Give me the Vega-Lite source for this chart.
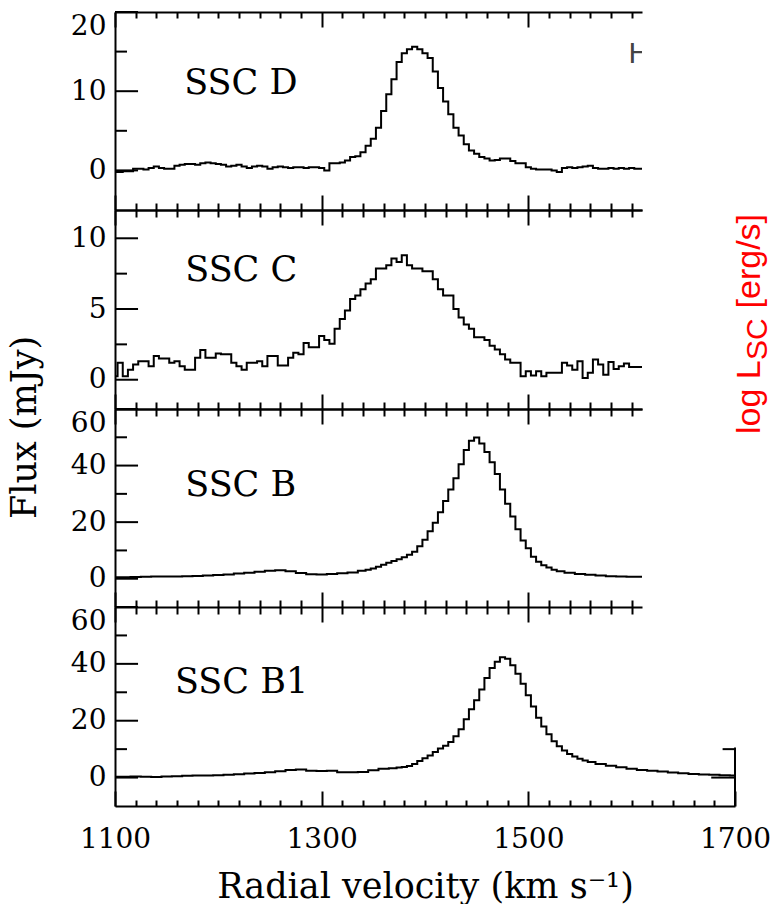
{
"$schema": "https://vega.github.io/schema/vega-lite/v6.json",
"background": "white",
"padding": {"left": 7, "top": 11, "right": 0, "bottom": 0},
"bounds": "flush",
"spacing": 0,
"datasets": {"s": [
{"p":"D","v":1100,"f":-0.2},{"p":"D","v":1105,"f":-0.2},{"p":"D","v":1110,"f":-0.1},{"p":"D","v":1115,"f":-0.1},{"p":"D","v":1120,"f":0.2},{"p":"D","v":1125,"f":0.2},{"p":"D","v":1130,"f":0.1},{"p":"D","v":1135,"f":0.3},{"p":"D","v":1140,"f":0.5},{"p":"D","v":1145,"f":0.3},{"p":"D","v":1150,"f":0.2},{"p":"D","v":1155,"f":0.2},{"p":"D","v":1160,"f":0.6},{"p":"D","v":1165,"f":0.7},{"p":"D","v":1170,"f":0.8},{"p":"D","v":1175,"f":0.8},{"p":"D","v":1180,"f":0.7},{"p":"D","v":1185,"f":0.9},{"p":"D","v":1190,"f":1.0},{"p":"D","v":1195,"f":0.9},{"p":"D","v":1200,"f":0.8},{"p":"D","v":1205,"f":0.7},{"p":"D","v":1210,"f":0.5},{"p":"D","v":1215,"f":0.6},{"p":"D","v":1220,"f":0.7},{"p":"D","v":1225,"f":0.5},{"p":"D","v":1230,"f":0.3},{"p":"D","v":1235,"f":0.5},{"p":"D","v":1240,"f":0.6},{"p":"D","v":1245,"f":0.5},{"p":"D","v":1250,"f":0.2},{"p":"D","v":1255,"f":0.4},{"p":"D","v":1260,"f":0.5},{"p":"D","v":1265,"f":0.4},{"p":"D","v":1270,"f":0.3},{"p":"D","v":1275,"f":0.4},{"p":"D","v":1280,"f":0.4},{"p":"D","v":1285,"f":0.3},{"p":"D","v":1290,"f":0.4},{"p":"D","v":1295,"f":0.4},{"p":"D","v":1300,"f":0.3},{"p":"D","v":1305,"f":0.0},{"p":"D","v":1310,"f":0.9},{"p":"D","v":1315,"f":0.9},{"p":"D","v":1320,"f":1.0},{"p":"D","v":1325,"f":1.25},{"p":"D","v":1330,"f":1.7},{"p":"D","v":1335,"f":1.8},{"p":"D","v":1340,"f":2.3},{"p":"D","v":1345,"f":3.1},{"p":"D","v":1350,"f":4.0},{"p":"D","v":1355,"f":5.4},{"p":"D","v":1360,"f":7.5},{"p":"D","v":1365,"f":9.6},{"p":"D","v":1370,"f":11.5},{"p":"D","v":1375,"f":13.7},{"p":"D","v":1380,"f":14.8},{"p":"D","v":1385,"f":15.3},{"p":"D","v":1390,"f":15.6},{"p":"D","v":1395,"f":15.3},{"p":"D","v":1400,"f":14.8},{"p":"D","v":1405,"f":14.2},{"p":"D","v":1410,"f":12.5},{"p":"D","v":1415,"f":10.4},{"p":"D","v":1420,"f":8.7},{"p":"D","v":1425,"f":7.1},{"p":"D","v":1430,"f":5.4},{"p":"D","v":1435,"f":4.4},{"p":"D","v":1440,"f":3.3},{"p":"D","v":1445,"f":2.5},{"p":"D","v":1450,"f":2.1},{"p":"D","v":1455,"f":1.7},{"p":"D","v":1460,"f":1.5},{"p":"D","v":1465,"f":1.25},{"p":"D","v":1470,"f":1.3},{"p":"D","v":1475,"f":1.5},{"p":"D","v":1480,"f":1.5},{"p":"D","v":1485,"f":1.2},{"p":"D","v":1490,"f":0.9},{"p":"D","v":1495,"f":0.9},{"p":"D","v":1500,"f":0.4},{"p":"D","v":1505,"f":0.2},{"p":"D","v":1510,"f":0.1},{"p":"D","v":1515,"f":0.1},{"p":"D","v":1520,"f":0.1},{"p":"D","v":1525,"f":0.0},{"p":"D","v":1530,"f":-0.2},{"p":"D","v":1535,"f":0.3},{"p":"D","v":1540,"f":0.4},{"p":"D","v":1545,"f":0.3},{"p":"D","v":1550,"f":0.4},{"p":"D","v":1555,"f":0.5},{"p":"D","v":1560,"f":0.6},{"p":"D","v":1565,"f":0.3},{"p":"D","v":1570,"f":0.2},{"p":"D","v":1575,"f":0.2},{"p":"D","v":1580,"f":0.3},{"p":"D","v":1585,"f":0.2},{"p":"D","v":1590,"f":0.3},{"p":"D","v":1595,"f":0.2},{"p":"D","v":1600,"f":0.3},{"p":"D","v":1605,"f":0.2},{"p":"D","v":1610,"f":0.2},
{"p":"C","v":1100,"f":0.24},{"p":"C","v":1105,"f":1.2},{"p":"C","v":1110,"f":0.24},{"p":"C","v":1115,"f":0.7},{"p":"C","v":1120,"f":1.07},{"p":"C","v":1125,"f":1.3},{"p":"C","v":1130,"f":1.3},{"p":"C","v":1135,"f":0.95},{"p":"C","v":1140,"f":1.67},{"p":"C","v":1145,"f":1.5},{"p":"C","v":1150,"f":1.5},{"p":"C","v":1155,"f":1.2},{"p":"C","v":1160,"f":1.3},{"p":"C","v":1165,"f":0.95},{"p":"C","v":1170,"f":0.7},{"p":"C","v":1175,"f":0.7},{"p":"C","v":1180,"f":1.55},{"p":"C","v":1185,"f":2.1},{"p":"C","v":1190,"f":1.55},{"p":"C","v":1195,"f":1.55},{"p":"C","v":1200,"f":1.86},{"p":"C","v":1205,"f":1.8},{"p":"C","v":1210,"f":1.8},{"p":"C","v":1215,"f":1.2},{"p":"C","v":1220,"f":0.95},{"p":"C","v":1225,"f":0.7},{"p":"C","v":1230,"f":1.2},{"p":"C","v":1235,"f":1.2},{"p":"C","v":1240,"f":1.3},{"p":"C","v":1245,"f":0.95},{"p":"C","v":1250,"f":1.67},{"p":"C","v":1255,"f":1.67},{"p":"C","v":1260,"f":1.0},{"p":"C","v":1265,"f":1.0},{"p":"C","v":1270,"f":1.55},{"p":"C","v":1275,"f":1.9},{"p":"C","v":1280,"f":1.8},{"p":"C","v":1285,"f":2.6},{"p":"C","v":1290,"f":2.3},{"p":"C","v":1295,"f":2.3},{"p":"C","v":1300,"f":3.1},{"p":"C","v":1305,"f":2.8},{"p":"C","v":1310,"f":2.55},{"p":"C","v":1315,"f":3.6},{"p":"C","v":1320,"f":4.3},{"p":"C","v":1325,"f":4.9},{"p":"C","v":1330,"f":5.7},{"p":"C","v":1335,"f":5.95},{"p":"C","v":1340,"f":6.4},{"p":"C","v":1345,"f":6.8},{"p":"C","v":1350,"f":7.1},{"p":"C","v":1355,"f":7.86},{"p":"C","v":1360,"f":7.86},{"p":"C","v":1365,"f":8.1},{"p":"C","v":1370,"f":8.57},{"p":"C","v":1375,"f":8.33},{"p":"C","v":1380,"f":8.8},{"p":"C","v":1385,"f":8.1},{"p":"C","v":1390,"f":7.86},{"p":"C","v":1395,"f":7.86},{"p":"C","v":1400,"f":7.67},{"p":"C","v":1405,"f":7.67},{"p":"C","v":1410,"f":7.1},{"p":"C","v":1415,"f":6.4},{"p":"C","v":1420,"f":5.95},{"p":"C","v":1425,"f":5.95},{"p":"C","v":1430,"f":5.0},{"p":"C","v":1435,"f":4.4},{"p":"C","v":1440,"f":3.9},{"p":"C","v":1445,"f":3.6},{"p":"C","v":1450,"f":3.0},{"p":"C","v":1455,"f":3.0},{"p":"C","v":1460,"f":2.8},{"p":"C","v":1465,"f":2.4},{"p":"C","v":1470,"f":2.14},{"p":"C","v":1475,"f":1.8},{"p":"C","v":1480,"f":1.43},{"p":"C","v":1485,"f":1.2},{"p":"C","v":1490,"f":1.2},{"p":"C","v":1495,"f":0.24},{"p":"C","v":1500,"f":0.6},{"p":"C","v":1505,"f":0.3},{"p":"C","v":1510,"f":0.6},{"p":"C","v":1515,"f":0.24},{"p":"C","v":1520,"f":0.5},{"p":"C","v":1525,"f":0.5},{"p":"C","v":1530,"f":0.5},{"p":"C","v":1535,"f":1.2},{"p":"C","v":1540,"f":1.0},{"p":"C","v":1545,"f":0.7},{"p":"C","v":1550,"f":1.3},{"p":"C","v":1555,"f":0.12},{"p":"C","v":1560,"f":0.5},{"p":"C","v":1565,"f":1.43},{"p":"C","v":1570,"f":1.07},{"p":"C","v":1575,"f":0.36},{"p":"C","v":1580,"f":1.26},{"p":"C","v":1585,"f":0.76},{"p":"C","v":1590,"f":0.95},{"p":"C","v":1595,"f":1.14},{"p":"C","v":1600,"f":0.9},{"p":"C","v":1605,"f":0.9},{"p":"C","v":1610,"f":0.9},
{"p":"B","v":1100,"f":0.5},{"p":"B","v":1110,"f":0.5},{"p":"B","v":1120,"f":0.6},{"p":"B","v":1130,"f":0.7},{"p":"B","v":1140,"f":0.8},{"p":"B","v":1150,"f":0.8},{"p":"B","v":1160,"f":0.8},{"p":"B","v":1170,"f":0.9},{"p":"B","v":1180,"f":1.0},{"p":"B","v":1190,"f":1.1},{"p":"B","v":1200,"f":1.3},{"p":"B","v":1210,"f":1.5},{"p":"B","v":1220,"f":1.8},{"p":"B","v":1230,"f":2.1},{"p":"B","v":1240,"f":2.5},{"p":"B","v":1250,"f":2.8},{"p":"B","v":1260,"f":3.0},{"p":"B","v":1270,"f":2.6},{"p":"B","v":1280,"f":2.0},{"p":"B","v":1290,"f":1.6},{"p":"B","v":1300,"f":1.5},{"p":"B","v":1310,"f":1.7},{"p":"B","v":1320,"f":1.9},{"p":"B","v":1330,"f":2.2},{"p":"B","v":1340,"f":2.8},{"p":"B","v":1345,"f":3.2},{"p":"B","v":1350,"f":3.6},{"p":"B","v":1355,"f":4.2},{"p":"B","v":1360,"f":4.9},{"p":"B","v":1365,"f":5.6},{"p":"B","v":1370,"f":6.3},{"p":"B","v":1375,"f":6.9},{"p":"B","v":1380,"f":7.6},{"p":"B","v":1385,"f":8.5},{"p":"B","v":1390,"f":9.5},{"p":"B","v":1395,"f":11.5},{"p":"B","v":1400,"f":13.8},{"p":"B","v":1405,"f":16.8},{"p":"B","v":1410,"f":19.8},{"p":"B","v":1415,"f":23.5},{"p":"B","v":1420,"f":27.5},{"p":"B","v":1425,"f":31.5},{"p":"B","v":1430,"f":35.5},{"p":"B","v":1435,"f":40.5},{"p":"B","v":1440,"f":45.5},{"p":"B","v":1445,"f":48.8},{"p":"B","v":1450,"f":49.9},{"p":"B","v":1455,"f":47.8},{"p":"B","v":1460,"f":44.8},{"p":"B","v":1465,"f":41.2},{"p":"B","v":1470,"f":37.0},{"p":"B","v":1475,"f":31.5},{"p":"B","v":1480,"f":26.5},{"p":"B","v":1485,"f":22.0},{"p":"B","v":1490,"f":17.5},{"p":"B","v":1495,"f":13.5},{"p":"B","v":1500,"f":10.8},{"p":"B","v":1505,"f":7.8},{"p":"B","v":1510,"f":6.0},{"p":"B","v":1515,"f":4.8},{"p":"B","v":1520,"f":4.0},{"p":"B","v":1525,"f":3.2},{"p":"B","v":1530,"f":2.6},{"p":"B","v":1540,"f":2.1},{"p":"B","v":1550,"f":1.7},{"p":"B","v":1560,"f":1.4},{"p":"B","v":1570,"f":1.1},{"p":"B","v":1580,"f":0.9},{"p":"B","v":1590,"f":0.8},{"p":"B","v":1600,"f":0.7},{"p":"B","v":1610,"f":0.7},
{"p":"B1","v":1100,"f":0.3},{"p":"B1","v":1110,"f":0.3},{"p":"B1","v":1120,"f":0.4},{"p":"B1","v":1130,"f":0.3},{"p":"B1","v":1140,"f":0.2},{"p":"B1","v":1150,"f":0.4},{"p":"B1","v":1160,"f":0.5},{"p":"B1","v":1170,"f":0.6},{"p":"B1","v":1180,"f":0.7},{"p":"B1","v":1190,"f":0.7},{"p":"B1","v":1200,"f":0.8},{"p":"B1","v":1210,"f":1.0},{"p":"B1","v":1220,"f":1.2},{"p":"B1","v":1230,"f":1.4},{"p":"B1","v":1240,"f":1.6},{"p":"B1","v":1250,"f":1.9},{"p":"B1","v":1260,"f":2.2},{"p":"B1","v":1270,"f":2.7},{"p":"B1","v":1280,"f":2.8},{"p":"B1","v":1290,"f":2.4},{"p":"B1","v":1300,"f":2.3},{"p":"B1","v":1310,"f":2.4},{"p":"B1","v":1320,"f":1.9},{"p":"B1","v":1330,"f":1.9},{"p":"B1","v":1340,"f":2.0},{"p":"B1","v":1350,"f":2.6},{"p":"B1","v":1360,"f":3.1},{"p":"B1","v":1370,"f":3.3},{"p":"B1","v":1375,"f":3.5},{"p":"B1","v":1380,"f":3.7},{"p":"B1","v":1385,"f":4.1},{"p":"B1","v":1390,"f":4.8},{"p":"B1","v":1395,"f":5.8},{"p":"B1","v":1400,"f":6.8},{"p":"B1","v":1405,"f":7.8},{"p":"B1","v":1410,"f":9.0},{"p":"B1","v":1415,"f":10.2},{"p":"B1","v":1420,"f":11.2},{"p":"B1","v":1425,"f":12.5},{"p":"B1","v":1430,"f":14.5},{"p":"B1","v":1435,"f":17.0},{"p":"B1","v":1440,"f":20.5},{"p":"B1","v":1445,"f":24.0},{"p":"B1","v":1450,"f":27.2},{"p":"B1","v":1455,"f":31.0},{"p":"B1","v":1460,"f":35.0},{"p":"B1","v":1465,"f":38.5},{"p":"B1","v":1470,"f":40.7},{"p":"B1","v":1475,"f":42.3},{"p":"B1","v":1480,"f":41.8},{"p":"B1","v":1485,"f":39.5},{"p":"B1","v":1490,"f":36.5},{"p":"B1","v":1495,"f":33.0},{"p":"B1","v":1500,"f":29.0},{"p":"B1","v":1505,"f":25.0},{"p":"B1","v":1510,"f":21.0},{"p":"B1","v":1515,"f":18.0},{"p":"B1","v":1520,"f":15.2},{"p":"B1","v":1525,"f":12.8},{"p":"B1","v":1530,"f":11.0},{"p":"B1","v":1535,"f":9.5},{"p":"B1","v":1540,"f":8.3},{"p":"B1","v":1545,"f":7.4},{"p":"B1","v":1550,"f":6.6},{"p":"B1","v":1555,"f":6.0},{"p":"B1","v":1560,"f":5.5},{"p":"B1","v":1570,"f":4.8},{"p":"B1","v":1580,"f":4.2},{"p":"B1","v":1590,"f":3.6},{"p":"B1","v":1600,"f":3.1},{"p":"B1","v":1610,"f":2.7},{"p":"B1","v":1620,"f":2.4},{"p":"B1","v":1630,"f":2.1},{"p":"B1","v":1640,"f":1.8},{"p":"B1","v":1650,"f":1.5},{"p":"B1","v":1660,"f":1.3},{"p":"B1","v":1670,"f":1.1},{"p":"B1","v":1680,"f":1.0},{"p":"B1","v":1690,"f":0.8},{"p":"B1","v":1700,"f":0.7}
]},
"vconcat": [
{
 "width": 527, "height": 198,
 "resolve": {"axis": {"x": "independent", "y": "independent"}},
 "layer": [
  {"data": {"name": "s"}, "transform": [{"filter": "datum.p === 'D'"}],
   "mark": {"type": "line", "interpolate": "step", "color": "black", "strokeWidth": 2},
   "encoding": {
    "x": {"field": "v", "type": "quantitative", "scale": {"domain": [1100, 1610], "nice": false, "zero": false},
          "axis": {"orient": "top", "values": [1100,1120,1140,1160,1180,1200,1220,1240,1260,1280,1300,1320,1340,1360,1380,1400,1420,1440,1460,1480,1500,1520,1540,1560,1580,1600], "labels": false, "title": null, "tickSize": {"condition": {"test": "datum.value % 200 === 100", "value": -15}, "value": -6}}},
    "y": {"field": "f", "type": "quantitative", "scale": {"domain": [-5, 20], "nice": false, "zero": false},
          "axis": {"orient": "left", "values": [0, 10, 20], "title": null, "labelOverlap": false, "labelPadding": 9, "tickSize": 0, "labelBaseline": {"condition": {"test": "datum.value === 20", "value": "top"}, "value": "middle"}}}
   }},
  {"data": {"name": "s"}, "transform": [{"filter": "datum.p === 'D'"}],
   "mark": {"type": "line", "interpolate": "step", "opacity": 0},
   "encoding": {
    "x": {"field": "v", "type": "quantitative", "scale": {"domain": [1100, 1610], "nice": false, "zero": false},
          "axis": {"orient": "bottom", "values": [1100,1120,1140,1160,1180,1200,1220,1240,1260,1280,1300,1320,1340,1360,1380,1400,1420,1440,1460,1480,1500,1520,1540,1560,1580,1600], "labels": false, "title": null, "tickSize": {"condition": {"test": "datum.value % 200 === 100", "value": 15}, "value": 7}}},
    "y": {"field": "f", "type": "quantitative", "scale": {"domain": [-5, 20], "nice": false, "zero": false}, "axis": null}
   }},
  {"data": {"values": [{"t": 0}, {"t": 10}, {"t": 20}]},
   "mark": {"type": "rule", "color": "black", "strokeWidth": 2},
   "encoding": {
    "x": {"datum": 1100, "type": "quantitative", "scale": {"domain": [1100, 1610], "nice": false, "zero": false}, "axis": null},
    "x2": {"datum": 1122.3},
    "y": {"field": "t", "type": "quantitative", "scale": {"domain": [-5, 20], "nice": false, "zero": false}, "axis": null}
   }},
  {"data": {"values": [{"t": 5}, {"t": 15}]},
   "mark": {"type": "rule", "color": "black", "strokeWidth": 2},
   "encoding": {
    "x": {"datum": 1100, "type": "quantitative", "scale": {"domain": [1100, 1610], "nice": false, "zero": false}, "axis": null},
    "x2": {"datum": 1111.6},
    "y": {"field": "t", "type": "quantitative", "scale": {"domain": [-5, 20], "nice": false, "zero": false}, "axis": null}
   }},
  {"data": {"values": [{}]},
   "mark": {"type": "text", "text": "SSC D", "font": "DejaVu Serif", "fontSize": 35, "align": "left", "baseline": "alphabetic", "color": "black"},
   "encoding": {
    "x": {"datum": 1167, "type": "quantitative", "scale": {"domain": [1100, 1610], "nice": false, "zero": false}, "axis": null},
    "y": {"datum": 9.6, "type": "quantitative", "scale": {"domain": [-5, 20], "nice": false, "zero": false}, "axis": null}
   }},
  {"data": {"values": [{}]},
   "mark": {"type": "text", "text": "H", "font": "Liberation Sans", "fontSize": 30, "align": "left", "baseline": "alphabetic", "color": "#444444", "clip": true},
   "encoding": {
    "x": {"datum": 1597, "type": "quantitative", "scale": {"domain": [1100, 1610], "nice": false, "zero": false}, "axis": null},
    "y": {"datum": 13.5, "type": "quantitative", "scale": {"domain": [-5, 20], "nice": false, "zero": false}, "axis": null}
   }}
 ]
},
{
 "width": 527, "height": 199,
 "resolve": {"axis": {"x": "independent", "y": "independent"}},
 "layer": [
  {"data": {"name": "s"}, "transform": [{"filter": "datum.p === 'C'"}],
   "mark": {"type": "line", "interpolate": "step", "color": "black", "strokeWidth": 2},
   "encoding": {
    "x": {"field": "v", "type": "quantitative", "scale": {"domain": [1100, 1610], "nice": false, "zero": false},
          "axis": {"orient": "top", "values": [1100,1120,1140,1160,1180,1200,1220,1240,1260,1280,1300,1320,1340,1360,1380,1400,1420,1440,1460,1480,1500,1520,1540,1560,1580,1600], "labels": false, "title": null, "tickSize": {"condition": {"test": "datum.value % 200 === 100", "value": 15}, "value": 7}}},
    "y": {"field": "f", "type": "quantitative", "scale": {"domain": [-2.07, 12], "nice": false, "zero": false},
          "axis": {"orient": "left", "values": [0, 5, 10], "title": "Flux (mJy)", "titleX": -73, "titleY": 217, "titleAngle": 270, "titleBaseline": "bottom", "titleAlign": "center", "labelOverlap": false, "labelPadding": 9, "tickSize": 0, "labelBaseline": "middle"}}
   }},
  {"data": {"name": "s"}, "transform": [{"filter": "datum.p === 'C'"}],
   "mark": {"type": "line", "interpolate": "step", "opacity": 0},
   "encoding": {
    "x": {"field": "v", "type": "quantitative", "scale": {"domain": [1100, 1610], "nice": false, "zero": false},
          "axis": {"orient": "bottom", "values": [1100,1120,1140,1160,1180,1200,1220,1240,1260,1280,1300,1320,1340,1360,1380,1400,1420,1440,1460,1480,1500,1520,1540,1560,1580,1600], "labels": false, "title": null, "tickSize": {"condition": {"test": "datum.value % 200 === 100", "value": 15}, "value": 7}}},
    "y": {"field": "f", "type": "quantitative", "scale": {"domain": [-2.07, 12], "nice": false, "zero": false}, "axis": null}
   }},
  {"data": {"values": [{"t": 0}, {"t": 5}, {"t": 10}]},
   "mark": {"type": "rule", "color": "black", "strokeWidth": 2},
   "encoding": {
    "x": {"datum": 1100, "type": "quantitative", "scale": {"domain": [1100, 1610], "nice": false, "zero": false}, "axis": null},
    "x2": {"datum": 1122.3},
    "y": {"field": "t", "type": "quantitative", "scale": {"domain": [-2.07, 12], "nice": false, "zero": false}, "axis": null}
   }},
  {"data": {"values": [{"t": 2.5}, {"t": 7.5}]},
   "mark": {"type": "rule", "color": "black", "strokeWidth": 2},
   "encoding": {
    "x": {"datum": 1100, "type": "quantitative", "scale": {"domain": [1100, 1610], "nice": false, "zero": false}, "axis": null},
    "x2": {"datum": 1111.6},
    "y": {"field": "t", "type": "quantitative", "scale": {"domain": [-2.07, 12], "nice": false, "zero": false}, "axis": null}
   }},
  {"data": {"values": [{}]},
   "mark": {"type": "text", "text": "SSC C", "font": "DejaVu Serif", "fontSize": 35, "align": "left", "baseline": "alphabetic", "color": "black"},
   "encoding": {
    "x": {"datum": 1168, "type": "quantitative", "scale": {"domain": [1100, 1610], "nice": false, "zero": false}, "axis": null},
    "y": {"datum": 7.0, "type": "quantitative", "scale": {"domain": [-2.07, 12], "nice": false, "zero": false}, "axis": null}
   }},
  {"data": {"values": [{}]},
   "mark": {"type": "text", "text": "log L", "font": "Liberation Sans", "fontSize": 34, "angle": 270, "align": "left", "baseline": "alphabetic", "color": "#ff0000"},
   "encoding": {
    "x": {"datum": 1724.5, "type": "quantitative", "scale": {"domain": [1100, 1610], "nice": false, "zero": false}, "axis": null},
    "y": {"datum": -3.84, "type": "quantitative", "scale": {"domain": [-2.07, 12], "nice": false, "zero": false}, "axis": null}
   }},
  {"data": {"values": [{}]},
   "mark": {"type": "text", "text": "SC", "font": "Liberation Sans", "fontSize": 30, "angle": 270, "align": "left", "baseline": "alphabetic", "color": "#ff0000"},
   "encoding": {
    "x": {"datum": 1730.5, "type": "quantitative", "scale": {"domain": [1100, 1610], "nice": false, "zero": false}, "axis": null},
    "y": {"datum": 1.39, "type": "quantitative", "scale": {"domain": [-2.07, 12], "nice": false, "zero": false}, "axis": null}
   }},
  {"data": {"values": [{}]},
   "mark": {"type": "text", "text": "[erg/s]", "font": "Liberation Sans", "fontSize": 34, "angle": 270, "align": "left", "baseline": "alphabetic", "color": "#ff0000"},
   "encoding": {
    "x": {"datum": 1724.5, "type": "quantitative", "scale": {"domain": [1100, 1610], "nice": false, "zero": false}, "axis": null},
    "y": {"datum": 5.04, "type": "quantitative", "scale": {"domain": [-2.07, 12], "nice": false, "zero": false}, "axis": null}
   }}
 ]
},
{
 "width": 527, "height": 198,
 "resolve": {"axis": {"x": "independent", "y": "independent"}},
 "layer": [
  {"data": {"name": "s"}, "transform": [{"filter": "datum.p === 'B'"}],
   "mark": {"type": "line", "interpolate": "step", "color": "black", "strokeWidth": 2},
   "encoding": {
    "x": {"field": "v", "type": "quantitative", "scale": {"domain": [1100, 1610], "nice": false, "zero": false},
          "axis": {"orient": "top", "values": [1100,1120,1140,1160,1180,1200,1220,1240,1260,1280,1300,1320,1340,1360,1380,1400,1420,1440,1460,1480,1500,1520,1540,1560,1580,1600], "labels": false, "title": null, "tickSize": {"condition": {"test": "datum.value % 200 === 100", "value": 15}, "value": 7}}},
    "y": {"field": "f", "type": "quantitative", "scale": {"domain": [-10, 60], "nice": false, "zero": false},
          "axis": {"orient": "left", "values": [0, 20, 40, 60], "title": null, "labelOverlap": false, "labelPadding": 9, "tickSize": 0, "labelBaseline": {"condition": {"test": "datum.value === 60", "value": "top"}, "value": "middle"}}}
   }},
  {"data": {"name": "s"}, "transform": [{"filter": "datum.p === 'B'"}],
   "mark": {"type": "line", "interpolate": "step", "opacity": 0},
   "encoding": {
    "x": {"field": "v", "type": "quantitative", "scale": {"domain": [1100, 1610], "nice": false, "zero": false},
          "axis": {"orient": "bottom", "values": [1100,1120,1140,1160,1180,1200,1220,1240,1260,1280,1300,1320,1340,1360,1380,1400,1420,1440,1460,1480,1500,1520,1540,1560,1580,1600], "labels": false, "title": null, "tickSize": {"condition": {"test": "datum.value % 200 === 100", "value": 15}, "value": 7}}},
    "y": {"field": "f", "type": "quantitative", "scale": {"domain": [-10, 60], "nice": false, "zero": false}, "axis": null}
   }},
  {"data": {"values": [{"t": 0}, {"t": 20}, {"t": 40}, {"t": 60}]},
   "mark": {"type": "rule", "color": "black", "strokeWidth": 2},
   "encoding": {
    "x": {"datum": 1100, "type": "quantitative", "scale": {"domain": [1100, 1610], "nice": false, "zero": false}, "axis": null},
    "x2": {"datum": 1122.3},
    "y": {"field": "t", "type": "quantitative", "scale": {"domain": [-10, 60], "nice": false, "zero": false}, "axis": null}
   }},
  {"data": {"values": [{"t": 10}, {"t": 30}, {"t": 50}]},
   "mark": {"type": "rule", "color": "black", "strokeWidth": 2},
   "encoding": {
    "x": {"datum": 1100, "type": "quantitative", "scale": {"domain": [1100, 1610], "nice": false, "zero": false}, "axis": null},
    "x2": {"datum": 1111.6},
    "y": {"field": "t", "type": "quantitative", "scale": {"domain": [-10, 60], "nice": false, "zero": false}, "axis": null}
   }},
  {"data": {"values": [{}]},
   "mark": {"type": "text", "text": "SSC B", "font": "DejaVu Serif", "fontSize": 35, "align": "left", "baseline": "alphabetic", "color": "black"},
   "encoding": {
    "x": {"datum": 1168, "type": "quantitative", "scale": {"domain": [1100, 1610], "nice": false, "zero": false}, "axis": null},
    "y": {"datum": 29.3, "type": "quantitative", "scale": {"domain": [-10, 60], "nice": false, "zero": false}, "axis": null}
   }}
 ]
},
{
 "width": 620, "height": 199,
 "resolve": {"axis": {"x": "independent", "y": "independent"}},
 "layer": [
  {"data": {"name": "s"}, "transform": [{"filter": "datum.p === 'B1'"}],
   "mark": {"type": "line", "interpolate": "step", "color": "black", "strokeWidth": 2},
   "encoding": {
    "x": {"field": "v", "type": "quantitative", "scale": {"domain": [1100, 1700], "nice": false, "zero": false},
          "axis": {"orient": "bottom", "values": [1100,1120,1140,1160,1180,1200,1220,1240,1260,1280,1300,1320,1340,1360,1380,1400,1420,1440,1460,1480,1500,1520,1540,1560,1580,1600,1620,1640,1660,1680,1700], "labelExpr": "datum.value % 200 === 100 ? datum.label : ''", "labelFlush": false, "labelOverlap": false, "labelBaseline": "alphabetic", "labelPadding": 56, "format": "d", "tickSize": {"condition": {"test": "datum.value % 200 === 100", "value": -15}, "value": -6}, "title": "Radial velocity (km s⁻¹)", "titleY": 91, "titleBaseline": "alphabetic"}},
    "y": {"field": "f", "type": "quantitative", "scale": {"domain": [-10, 60], "nice": false, "zero": false},
          "axis": {"orient": "left", "values": [0, 20, 40, 60], "title": null, "labelOverlap": false, "labelPadding": 9, "tickSize": 0, "labelBaseline": {"condition": {"test": "datum.value === 60", "value": "top"}, "value": "middle"}}}
   }},
  {"data": {"name": "s"}, "transform": [{"filter": "datum.p === 'B1'"}],
   "mark": {"type": "line", "interpolate": "step", "opacity": 0},
   "encoding": {
    "x": {"field": "v", "type": "quantitative", "scale": {"domain": [1100, 1700], "nice": false, "zero": false},
          "axis": {"orient": "top", "domain": false, "values": [1100,1120,1140,1160,1180,1200,1220,1240,1260,1280,1300,1320,1340,1360,1380,1400,1420,1440,1460,1480,1500,1520,1540,1560,1580,1600], "labels": false, "title": null, "tickSize": {"condition": {"test": "datum.value % 200 === 100", "value": 15}, "value": 7}}},
    "y": {"field": "f", "type": "quantitative", "scale": {"domain": [-10, 60], "nice": false, "zero": false}, "axis": null}
   }},
  {"data": {"values": [{"t": 0}, {"t": 20}, {"t": 40}, {"t": 60}]},
   "mark": {"type": "rule", "color": "black", "strokeWidth": 2},
   "encoding": {
    "x": {"datum": 1100, "type": "quantitative", "scale": {"domain": [1100, 1700], "nice": false, "zero": false}, "axis": null},
    "x2": {"datum": 1122.3},
    "y": {"field": "t", "type": "quantitative", "scale": {"domain": [-10, 60], "nice": false, "zero": false}, "axis": null}
   }},
  {"data": {"values": [{"t": 10}, {"t": 30}, {"t": 50}]},
   "mark": {"type": "rule", "color": "black", "strokeWidth": 2},
   "encoding": {
    "x": {"datum": 1100, "type": "quantitative", "scale": {"domain": [1100, 1700], "nice": false, "zero": false}, "axis": null},
    "x2": {"datum": 1111.6},
    "y": {"field": "t", "type": "quantitative", "scale": {"domain": [-10, 60], "nice": false, "zero": false}, "axis": null}
   }},
  {"data": {"values": [{}]},
   "mark": {"type": "text", "text": "SSC B1", "font": "DejaVu Serif", "fontSize": 35, "align": "left", "baseline": "alphabetic", "color": "black"},
   "encoding": {
    "x": {"datum": 1158, "type": "quantitative", "scale": {"domain": [1100, 1700], "nice": false, "zero": false}, "axis": null},
    "y": {"datum": 29.7, "type": "quantitative", "scale": {"domain": [-10, 60], "nice": false, "zero": false}, "axis": null}
   }},
  {"data": {"values": [{}]},
   "mark": {"type": "rule", "color": "black", "strokeWidth": 2},
   "encoding": {
    "x": {"datum": 1700, "type": "quantitative", "scale": {"domain": [1100, 1700], "nice": false, "zero": false}, "axis": null},
    "y": {"datum": -10, "type": "quantitative", "scale": {"domain": [-10, 60], "nice": false, "zero": false}, "axis": null},
    "y2": {"datum": 10.6}
   }},
  {"data": {"values": [{}]},
   "mark": {"type": "rule", "color": "black", "strokeWidth": 2},
   "encoding": {
    "x": {"datum": 1677, "type": "quantitative", "scale": {"domain": [1100, 1700], "nice": false, "zero": false}, "axis": null},
    "x2": {"datum": 1700},
    "y": {"datum": 0, "type": "quantitative", "scale": {"domain": [-10, 60], "nice": false, "zero": false}, "axis": null}
   }},
  {"data": {"values": [{}]},
   "mark": {"type": "rule", "color": "black", "strokeWidth": 2},
   "encoding": {
    "x": {"datum": 1688, "type": "quantitative", "scale": {"domain": [1100, 1700], "nice": false, "zero": false}, "axis": null},
    "x2": {"datum": 1700},
    "y": {"datum": 10, "type": "quantitative", "scale": {"domain": [-10, 60], "nice": false, "zero": false}, "axis": null}
   }}
 ]
}
],
"config": {
 "view": {"stroke": null},
 "axis": {"domainColor": "black", "domainWidth": 2, "tickColor": "black", "tickWidth": 2, "grid": false,
          "labelFont": "DejaVu Serif", "labelFontSize": 28, "labelColor": "black",
          "titleFont": "DejaVu Serif", "titleFontSize": 35, "titleColor": "black", "titleFontWeight": "normal"}
}
}
